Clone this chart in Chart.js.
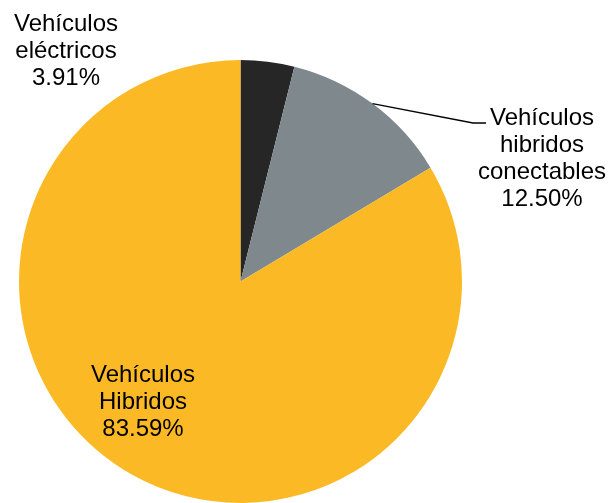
<!DOCTYPE html>
<html>
<head>
<meta charset="utf-8">
<script src="https://cdn.jsdelivr.net/npm/chart.js@4/dist/chart.umd.min.js"></script>
<style>
  html, body { margin: 0; padding: 0; background: #ffffff; }
  #wrap { width: 610px; height: 503px; }
</style>
</head>
<body>
<div id="wrap"><canvas id="c" width="610" height="503"></canvas></div>
<script>
// ---- data ----
const categories = [
  ["Vehículos", "eléctricos"],
  ["Vehículos", "hibridos", "conectables"],
  ["Vehículos", "Hibridos"]
];
const shares = [3.91, 12.50, 83.59];
const percentLabels = ["3.91%", "12.50%", "83.59%"];

// ---- styling / layout (not data) ----
const colors = ["#262626", "#7f888d", "#fbba25"];
const FONT = '24px "Liberation Sans", Arial, sans-serif';
const LINE_H = 27;
// label anchors: x center, first baseline y; leader = whether to draw a leader line
const labelLayout = [
  { x: 66, y: 31, leader: null },
  { x: 542, y: 125, leader: { elbowX: 473, elbowY: 123, endX: 486 } },
  { x: 143, y: 382, leader: null }
];

const labelPlugin = {
  id: 'pieLabels',
  afterDraw(chart) {
    const ctx = chart.ctx;
    const meta = chart.getDatasetMeta(0);
    ctx.save();
    ctx.font = FONT;
    ctx.fillStyle = '#000000';
    ctx.textAlign = 'center';
    ctx.textBaseline = 'alphabetic';
    meta.data.forEach((arc, i) => {
      const L = labelLayout[i];
      const lines = categories[i].concat([percentLabels[i]]);
      lines.forEach((t, k) => ctx.fillText(t, L.x, L.y + k * LINE_H));
      if (L.leader) {
        const p = arc.getProps(['x', 'y', 'startAngle', 'endAngle', 'outerRadius'], true);
        const mid = (p.startAngle + p.endAngle) / 2;
        const sx = p.x + Math.cos(mid) * p.outerRadius;
        const sy = p.y + Math.sin(mid) * p.outerRadius;
        ctx.beginPath();
        ctx.strokeStyle = '#000000';
        ctx.lineWidth = 1.5;
        ctx.moveTo(sx, sy);
        ctx.lineTo(L.leader.elbowX, L.leader.elbowY);
        ctx.lineTo(L.leader.endX, L.leader.elbowY);
        ctx.stroke();
      }
    });
    ctx.restore();
  }
};

new Chart(document.getElementById('c'), {
  type: 'pie',
  data: {
    labels: categories.map(c => c.join(' ')),
    datasets: [{
      data: shares,
      backgroundColor: colors,
      borderWidth: 0,
      hoverOffset: 0
    }]
  },
  options: {
    responsive: false,
    animation: false,
    layout: { padding: { left: 18, top: 60, right: 147, bottom: 0 } },
    plugins: {
      legend: { display: false },
      tooltip: { enabled: false }
    },
    events: []
  },
  plugins: [labelPlugin]
});
</script>
</body>
</html>
